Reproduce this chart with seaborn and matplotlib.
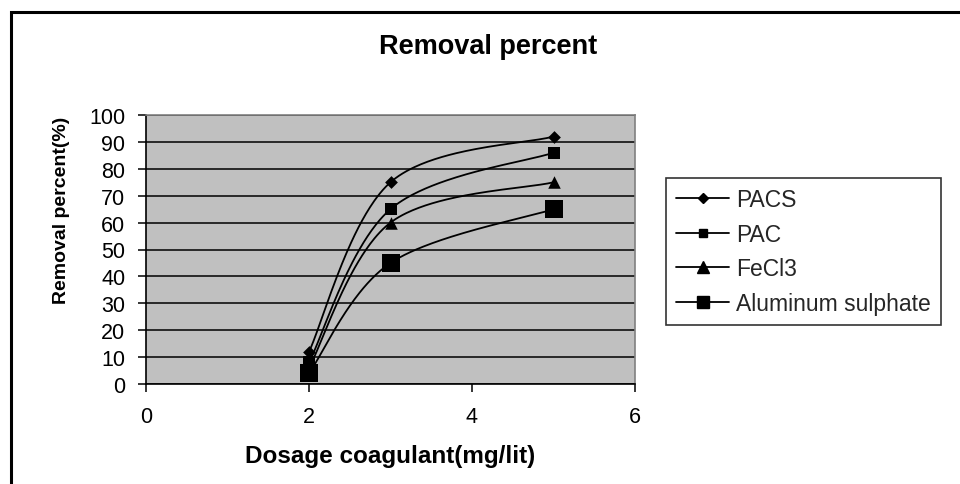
import numpy as np
import matplotlib
matplotlib.use("Agg")
import matplotlib.pyplot as plt
import seaborn as sns
from matplotlib.lines import Line2D
from matplotlib.patches import Rectangle

# datos
dosage = [2, 3, 5]
pacs = [12, 75, 92]
pac = [8, 65, 86]
fecl3 = [6, 60, 75]
alum = [4, 45, 65]
series_names = ["PACS", "PAC", "FeCl3", "Aluminum sulphate"]
x_ticks = [0, 2, 4, 6]
y_ticks = list(range(0, 101, 10))

sns.set_style("ticks")
plt.rcParams['font.family'] = ['Liberation Sans', 'DejaVu Sans']


def smooth_curve(xs, ys, n=80):
    # linea suavizada estilo Excel (bezier con tangentes Catmull-Rom)
    pts = np.column_stack([xs, ys]).astype(float)
    ext = np.vstack([pts[0], pts, pts[-1]])
    t = np.linspace(0, 1, n)[:, None]
    segs = []
    for i in range(len(pts) - 1):
        p0, p1 = ext[i + 1], ext[i + 2]
        c1 = p0 + (ext[i + 2] - ext[i]) / 6
        c2 = p1 - (ext[i + 3] - ext[i + 1]) / 6
        segs.append((1 - t) ** 3 * p0 + 3 * (1 - t) ** 2 * t * c1
                    + 3 * (1 - t) * t ** 2 * c2 + t ** 3 * p1)
    out = np.vstack(segs)
    return out[:, 0], out[:, 1]


series = [pacs, pac, fecl3, alum]
# marcador, tamaño en grafico, tamaño en leyenda
markers = [('D', 6.5, 5.5), ('s', 8, 6), ('^', 9, 8), ('s', 12.5, 8)]

fig = plt.figure(figsize=(9.6, 4.85), dpi=100)
ax = fig.add_axes([146 / 960, 1 - 385 / 485, (635 - 146) / 960, (385 - 116) / 485])
ax.set_facecolor('#C0C0C0')

for vals, (m, ms, _) in zip(series, markers):
    bx, by = smooth_curve(dosage, vals)
    sns.lineplot(x=bx, y=by, sort=False, estimator=None, color='black', lw=1.3, ax=ax)
    sns.scatterplot(x=dosage, y=vals, marker=m, s=ms ** 2, color='black',
                    edgecolor='black', linewidth=0, ax=ax, zorder=3)

ax.set_xlim(0, 6)
ax.set_ylim(0, 100)
ax.set_xticks(x_ticks)
ax.set_yticks(y_ticks)
ax.yaxis.grid(True, color='black', lw=1.1)
ax.set_axisbelow(True)
ax.tick_params(axis='both', direction='out', length=6, width=1.1, colors='black', labelsize=15.5)
ax.tick_params(axis='y', pad=9)
ax.tick_params(axis='x', pad=10)
for s in ['top', 'right']:
    ax.spines[s].set_color('#808080')
    ax.spines[s].set_linewidth(1.2)
for s in ['left', 'bottom']:
    ax.spines[s].set_color('black')
    ax.spines[s].set_linewidth(1.2)
ax.set_xlabel('')
ax.set_ylabel('')

fig.text(488 / 960, 1 - 47 / 485, 'Removal percent', ha='center', va='center',
         fontsize=19.5, fontweight='bold', color='black')
fig.text(390 / 960, 1 - 457 / 485, 'Dosage coagulant(mg/lit)', ha='center', va='center',
         fontsize=17.5, fontweight='bold', color='black')
fig.text(61 / 960, 1 - 210 / 485, 'Removal percent(%)', ha='center', va='center',
         rotation=90, fontsize=14, fontweight='bold', color='black')

handles = [Line2D([0], [0], color='black', lw=1.3, marker=m, markersize=lms)
           for (m, _, lms) in markers]
leg = fig.legend(handles, series_names, loc='upper left',
                 bbox_to_anchor=(666 / 960, 1 - 179 / 485), frameon=True, fancybox=False,
                 edgecolor='black', fontsize=16.5, handlelength=2.3, handletextpad=0.3,
                 labelspacing=0.5, borderpad=0.45, borderaxespad=0)
leg.get_frame().set_linewidth(1.2)

# borde del area del grafico
fig.add_artist(Rectangle((10.5 / 960, -0.5), 2, 0.5 + (1 - 12.5 / 485),
                         transform=fig.transFigure, fill=False, edgecolor='black', lw=2.2))

fig.savefig('out.png', dpi=100)
